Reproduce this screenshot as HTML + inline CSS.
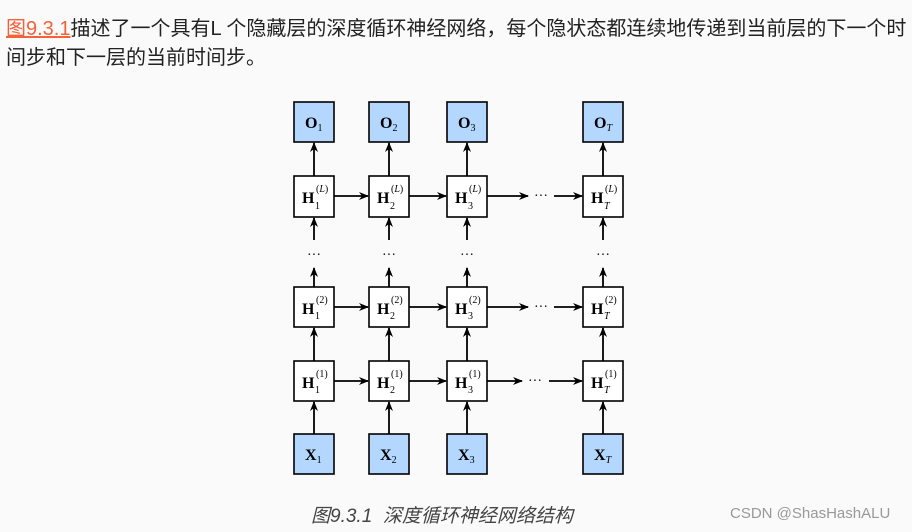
<!DOCTYPE html>
<html><head><meta charset="utf-8"><style>
body{margin:0;width:912px;height:532px;background:#fafafa;overflow:hidden;position:relative;font-family:"Liberation Sans","Noto Sans CJK SC",sans-serif;}
.t{position:absolute;left:6px;font-size:20px;color:#222;white-space:nowrap;}
.a{color:#f4623a;text-decoration:underline;}
.cap{position:absolute;left:311px;top:501px;font-size:19px;color:#444;font-style:italic;}
.wm{position:absolute;left:730px;top:505px;font-size:15px;color:#999;}
</style></head><body>
<div class="t" style="top:12px"><span class="a">图9.3.1</span>描述了一个具有L 个隐藏层的深度循环神经网络，每个隐状态都连续地传递到当前层的下一个时</div>
<div class="t" style="top:41px">间步和下一层的当前时间步。</div>
<svg width="912" height="532" style="position:absolute;left:0;top:0" font-family="Liberation Serif,serif">
<defs><marker id="m" markerWidth="10" markerHeight="10" refX="9" refY="5" orient="auto" markerUnits="userSpaceOnUse"><path d="M0,1 L10,5 L0,9 L3,5z" fill="#000"/></marker></defs>
<g stroke="#000" stroke-width="1.8" fill="none" marker-end="url(#m)">
<g id="v">
<line x1="314" y1="176" x2="314" y2="143"/>
<line x1="314" y1="240" x2="314" y2="218"/>
<line x1="314" y1="287" x2="314" y2="268"/>
<line x1="314" y1="361" x2="314" y2="328"/>
<line x1="314" y1="434" x2="314" y2="402"/>
</g>
<use href="#v" x="75"/><use href="#v" x="153"/><use href="#v" x="289"/>
<line x1="334" y1="196" x2="368" y2="196"/><line x1="409" y1="196" x2="446" y2="196"/>
<line x1="487" y1="196" x2="528" y2="196"/><line x1="554" y1="196" x2="582" y2="196"/>
<line x1="334" y1="307" x2="368" y2="307"/><line x1="409" y1="307" x2="446" y2="307"/>
<line x1="487" y1="307" x2="528" y2="307"/><line x1="554" y1="307" x2="582" y2="307"/>
<line x1="334" y1="381" x2="368" y2="381"/><line x1="409" y1="381" x2="446" y2="381"/>
<line x1="487" y1="381" x2="522" y2="381"/><line x1="549" y1="381" x2="582" y2="381"/>
</g>
<g stroke="#000" stroke-width="1.6">
<g id="c">
<rect x="294" y="102" width="40" height="40" fill="#b3d7ff"/>
<rect x="294" y="176" width="40" height="41" fill="#fff"/>
<rect x="294" y="287" width="40" height="40" fill="#fff"/>
<rect x="294" y="361" width="40" height="40" fill="#fff"/>
<rect x="294" y="434" width="40" height="40" fill="#b3d7ff"/>
</g>
<use href="#c" x="75"/><use href="#c" x="153"/><use href="#c" x="289"/>
</g>
<g font-size="14" fill="#000">
<text x="541" y="200" text-anchor="middle">···</text>
<text x="541" y="311" text-anchor="middle">···</text>
<text x="535" y="385" text-anchor="middle">···</text>
<text x="314" y="259" text-anchor="middle">···</text><text x="389" y="259" text-anchor="middle">···</text>
<text x="467" y="259" text-anchor="middle">···</text><text x="603" y="259" text-anchor="middle">···</text>
</g>
<g font-size="16" font-weight="bold">
<text x="305" y="128">O<tspan font-size="10" font-weight="normal" dy="3">1</tspan></text>
<text x="380" y="128">O<tspan font-size="10" font-weight="normal" dy="3">2</tspan></text>
<text x="458" y="128">O<tspan font-size="10" font-weight="normal" dy="3">3</tspan></text>
<text x="594" y="128">O<tspan font-size="10" font-weight="normal" font-style="italic" dy="3">T</tspan></text>
<text x="305" y="460">X<tspan font-size="10" font-weight="normal" dy="3">1</tspan></text>
<text x="380" y="460">X<tspan font-size="10" font-weight="normal" dy="3">2</tspan></text>
<text x="458" y="460">X<tspan font-size="10" font-weight="normal" dy="3">3</tspan></text>
<text x="594" y="460">X<tspan font-size="10" font-weight="normal" font-style="italic" dy="3">T</tspan></text>
</g>
<g font-size="16" font-weight="bold" id="h">
<text x="302" y="203">H</text><text x="302" y="314">H</text><text x="302" y="388">H</text>
</g>
<use href="#h" x="75"/><use href="#h" x="153"/><use href="#h" x="289"/>
<g font-size="10">
<text x="316" y="192">(<tspan font-style="italic">L</tspan>)</text><text x="316" y="303">(2)</text><text x="316" y="377">(1)</text>
<text x="391" y="192">(<tspan font-style="italic">L</tspan>)</text><text x="391" y="303">(2)</text><text x="391" y="377">(1)</text>
<text x="469" y="192">(<tspan font-style="italic">L</tspan>)</text><text x="469" y="303">(2)</text><text x="469" y="377">(1)</text>
<text x="605" y="192">(<tspan font-style="italic">L</tspan>)</text><text x="605" y="303">(2)</text><text x="605" y="377">(1)</text>
<text x="315" y="209">1</text><text x="315" y="319">1</text><text x="315" y="393">1</text>
<text x="390" y="209">2</text><text x="390" y="319">2</text><text x="390" y="393">2</text>
<text x="468" y="209">3</text><text x="468" y="319">3</text><text x="468" y="393">3</text>
<text x="604" y="209" font-style="italic">T</text><text x="604" y="319" font-style="italic">T</text><text x="604" y="393" font-style="italic">T</text>
</g>
</svg>
<div class="cap">图9.3.1&nbsp; 深度循环神经网络结构</div>
<div class="wm">CSDN @ShasHashALU</div>
</body></html>
